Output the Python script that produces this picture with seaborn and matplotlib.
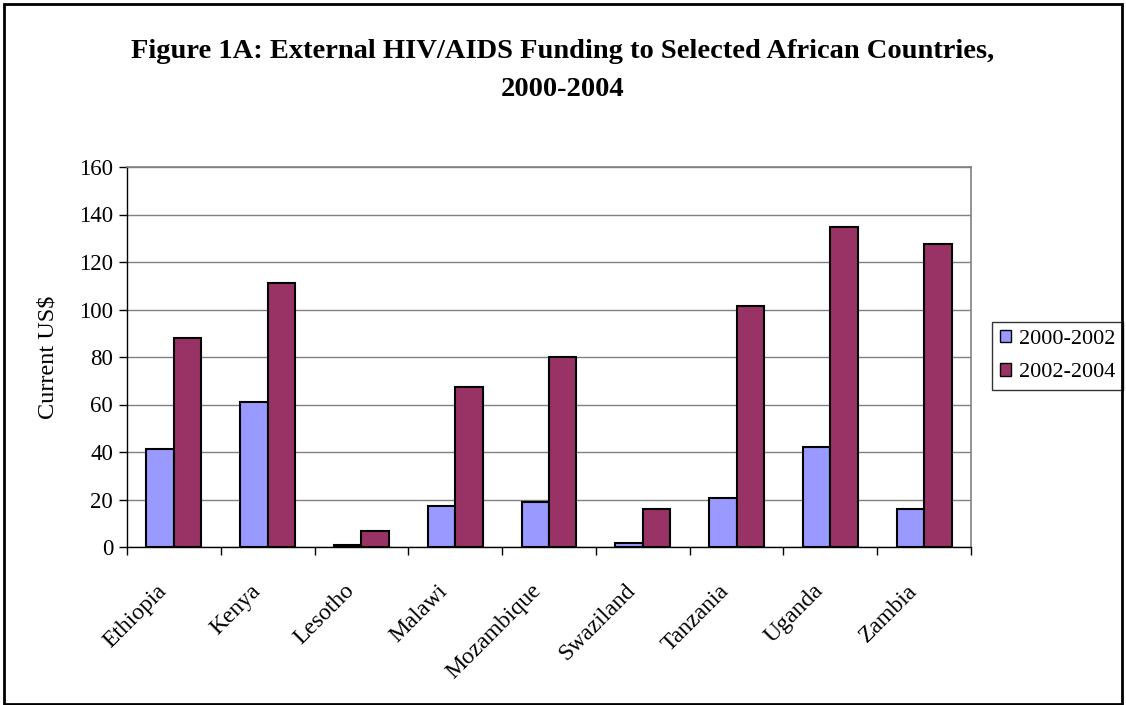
import matplotlib
matplotlib.use("Agg")
import matplotlib.pyplot as plt
from matplotlib.patches import Rectangle
from matplotlib.ticker import FixedLocator
from matplotlib.transforms import ScaledTranslation
import seaborn as sns
import pandas as pd

countries = ["Ethiopia", "Kenya", "Lesotho", "Malawi", "Mozambique",
             "Swaziland", "Tanzania", "Uganda", "Zambia"]
funding_2000_2002 = [41.3, 61.0, 0.8, 17.4, 19.1, 1.7, 20.6, 42.1, 16.0]
funding_2002_2004 = [88.0, 111.0, 6.6, 67.4, 80.0, 16.0, 101.6, 134.7, 127.6]
periods = ["2000-2002", "2002-2004"]
colors = ["#9999FF", "#993366"]

df = pd.DataFrame({
    "Country": countries * 2,
    "Funding": funding_2000_2002 + funding_2002_2004,
    "Period": [periods[0]] * len(countries) + [periods[1]] * len(countries),
})

sns.set_style("white")
plt.rcParams["font.family"] = ["Liberation Serif", "DejaVu Serif"]
plt.rcParams.update({"text.color": "black", "axes.labelcolor": "black",
                     "xtick.color": "black", "ytick.color": "black"})

fig = plt.figure(figsize=(11.26, 7.05), dpi=100)
ax = fig.add_axes([127 / 1126, 1 - 547 / 705, (971 - 127) / 1126, (547 - 167) / 705])

sns.barplot(data=df, x="Country", y="Funding", hue="Period", order=countries,
            hue_order=periods, palette=colors, width=0.585, edgecolor="black",
            linewidth=1.5, ax=ax, saturation=1, errorbar=None, zorder=3)

ax.set_xlim(-0.5, len(countries) - 0.5)
ax.set_ylim(0, 160)
ax.set_yticks(range(0, 161, 20))
ax.yaxis.grid(True, color="#808080", linewidth=1.0, zorder=0)
ax.set_axisbelow(True)

for side in ["top", "right"]:
    ax.spines[side].set_color("#808080")
    ax.spines[side].set_linewidth(1.2)
for side in ["left", "bottom"]:
    ax.spines[side].set_color("black")
    ax.spines[side].set_linewidth(1.0)

# Category ticks sit on the group boundaries
ax.xaxis.set_major_locator(FixedLocator(range(len(countries))))
ax.set_xticklabels(countries, rotation=45, ha="right", rotation_mode="anchor", fontsize=17)
ax.tick_params(axis="x", which="major", length=0, pad=24)
shift = ScaledTranslation(-18 / 100, 0, fig.dpi_scale_trans)
for lbl in ax.get_xticklabels():
    lbl.set_transform(lbl.get_transform() + shift)
ax.xaxis.set_minor_locator(FixedLocator([i - 0.5 for i in range(len(countries) + 1)]))
ax.tick_params(axis="x", which="minor", length=6, width=1, color="black", direction="out", bottom=True)
ax.tick_params(axis="y", length=6, width=1, color="black", direction="out", left=True,
               labelsize=16.5, pad=4)

ax.set_xlabel("")
ax.set_ylabel("Current US$", fontsize=17.5, labelpad=15)

leg = ax.legend(loc="center left", bbox_to_anchor=(992 / 1126, 1 - 356 / 705),
                bbox_transform=fig.transFigure, frameon=True, fancybox=False,
                fontsize=16, handlelength=0.5, handleheight=0.5, handletextpad=0.35,
                borderpad=0.35, labelspacing=0.65, borderaxespad=0)
leg.get_frame().set_edgecolor("black")
leg.get_frame().set_linewidth(1.0)
for h in leg.legend_handles:
    h.set_edgecolor("black")
    h.set_linewidth(1.0)

fig.text(0.5, 1 - 52 / 705, "Figure 1A: External HIV/AIDS Funding to Selected African Countries,",
         ha="center", va="center", fontsize=20.5, fontweight="bold")
fig.text(0.5, 1 - 90 / 705, "2000-2004", ha="center", va="center", fontsize=20.5, fontweight="bold")

fig.patches.append(Rectangle((4 / 1126, 0.002), 1 - 8 / 1126, 1 - 0.002 - 4 / 705,
                             transform=fig.transFigure, fill=False, edgecolor="black",
                             linewidth=2))

fig.savefig("out.png", dpi=100)
